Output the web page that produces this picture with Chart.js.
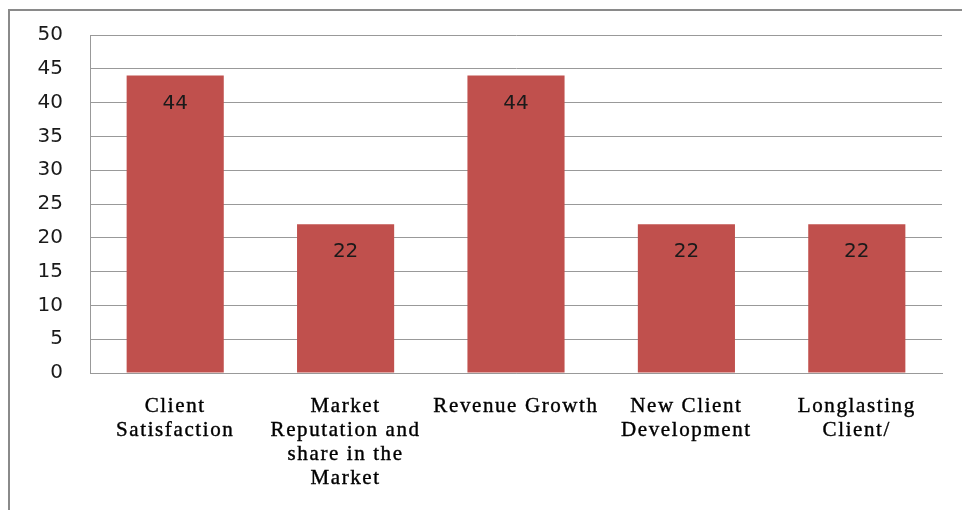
<!DOCTYPE html>
<html>
<head>
<meta charset="utf-8">
<script src="https://cdn.jsdelivr.net/npm/chart.js@4/dist/chart.umd.min.js"></script>
<style>
  html, body { margin: 0; padding: 0; background: #fff; overflow: hidden; }
  #frame {
    position: absolute; left: 8px; top: 9px; width: 1000px; height: 600px;
    border: 2px solid #8a8a8a; box-sizing: border-box;
  }
  #wrap { position: absolute; left: 0; top: 0; width: 962px; height: 510px; }
</style>
</head>
<body>
<div id="frame"></div>
<div id="wrap"><canvas id="chart" width="962" height="510"></canvas></div>
<script>
// Category labels, already split into the lines shown under each bar
const categories = [
  ['Client', 'Satisfaction'],
  ['Market', 'Reputation and', 'share in the', 'Market'],
  ['Revenue Growth'],
  ['New Client', 'Development'],
  ['Longlasting', 'Client/']
];
// Percent of respondents per category
const values = [44, 22, 44, 22, 22];
// Value axis ticks
const yMin = 0;
const yMax = 50;
const yStep = 5;

// Prints each bar's value just inside its top edge
const valueLabels = {
  id: 'valueLabels',
  afterDatasetsDraw(chart) {
    const ctx = chart.ctx;
    const meta = chart.getDatasetMeta(0);
    ctx.save();
    ctx.letterSpacing = '0px';
    ctx.font = '20px "DejaVu Sans"';
    ctx.fillStyle = '#1a1a1a';
    ctx.textAlign = 'center';
    ctx.textBaseline = 'middle';
    meta.data.forEach((bar, i) => {
      const v = chart.data.datasets[0].data[i];
      ctx.fillText(String(v), bar.x, bar.y + 28);
    });
    ctx.restore();
  }
};

// Slightly spaced serif lettering for the category axis
const spacedCategoryText = {
  id: 'spacedCategoryText',
  afterLayout(chart) {
    const xs = chart.scales.x;
    if (xs._spacedWrapped) return;
    const orig = xs.drawLabels.bind(xs);
    xs.drawLabels = function (area) {
      const ctx = this.ctx;
      ctx.save();
      ctx.letterSpacing = '1.6px';
      orig(area);
      ctx.restore();
      ctx.letterSpacing = '0px';
    };
    xs._spacedWrapped = true;
  }
};

new Chart(document.getElementById('chart'), {
  type: 'bar',
  data: {
    labels: categories,
    datasets: [{
      data: values,
      backgroundColor: '#c0504d',
      borderWidth: 0,
      categoryPercentage: 1,
      barPercentage: 0.57
    }]
  },
  options: {
    responsive: false,
    animation: false,
    layout: { padding: { top: 35, right: 20, bottom: 0, left: 0 } },
    plugins: {
      legend: { display: false },
      tooltip: { enabled: false }
    },
    scales: {
      x: {
        grid: { display: false, drawTicks: false },
        border: { display: true, color: '#999999', width: 1 },
        ticks: {
          padding: 21,
          maxRotation: 0,
          autoSkip: false,
          color: '#000000',
          textStrokeColor: '#000000',
          textStrokeWidth: 0.4,
          font: { family: '"Liberation Serif", "Times New Roman", serif', size: 21, lineHeight: 24 / 21 }
        },
        afterFit(scale) { scale.height = 137; }
      },
      y: {
        min: yMin,
        max: yMax,
        grid: { color: '#999999', lineWidth: 1, drawTicks: false },
        border: { display: true, color: '#999999', width: 1 },
        ticks: {
          stepSize: yStep,
          padding: 27,
          color: '#1a1a1a',
          font: { family: '"DejaVu Sans", sans-serif', size: 20 }
        },
        afterFit(scale) {
          scale.width = 90;
          scale.paddingTop = 0;
          scale.paddingBottom = 0;
        }
      }
    }
  },
  plugins: [valueLabels, spacedCategoryText]
});
</script>
</body>
</html>
